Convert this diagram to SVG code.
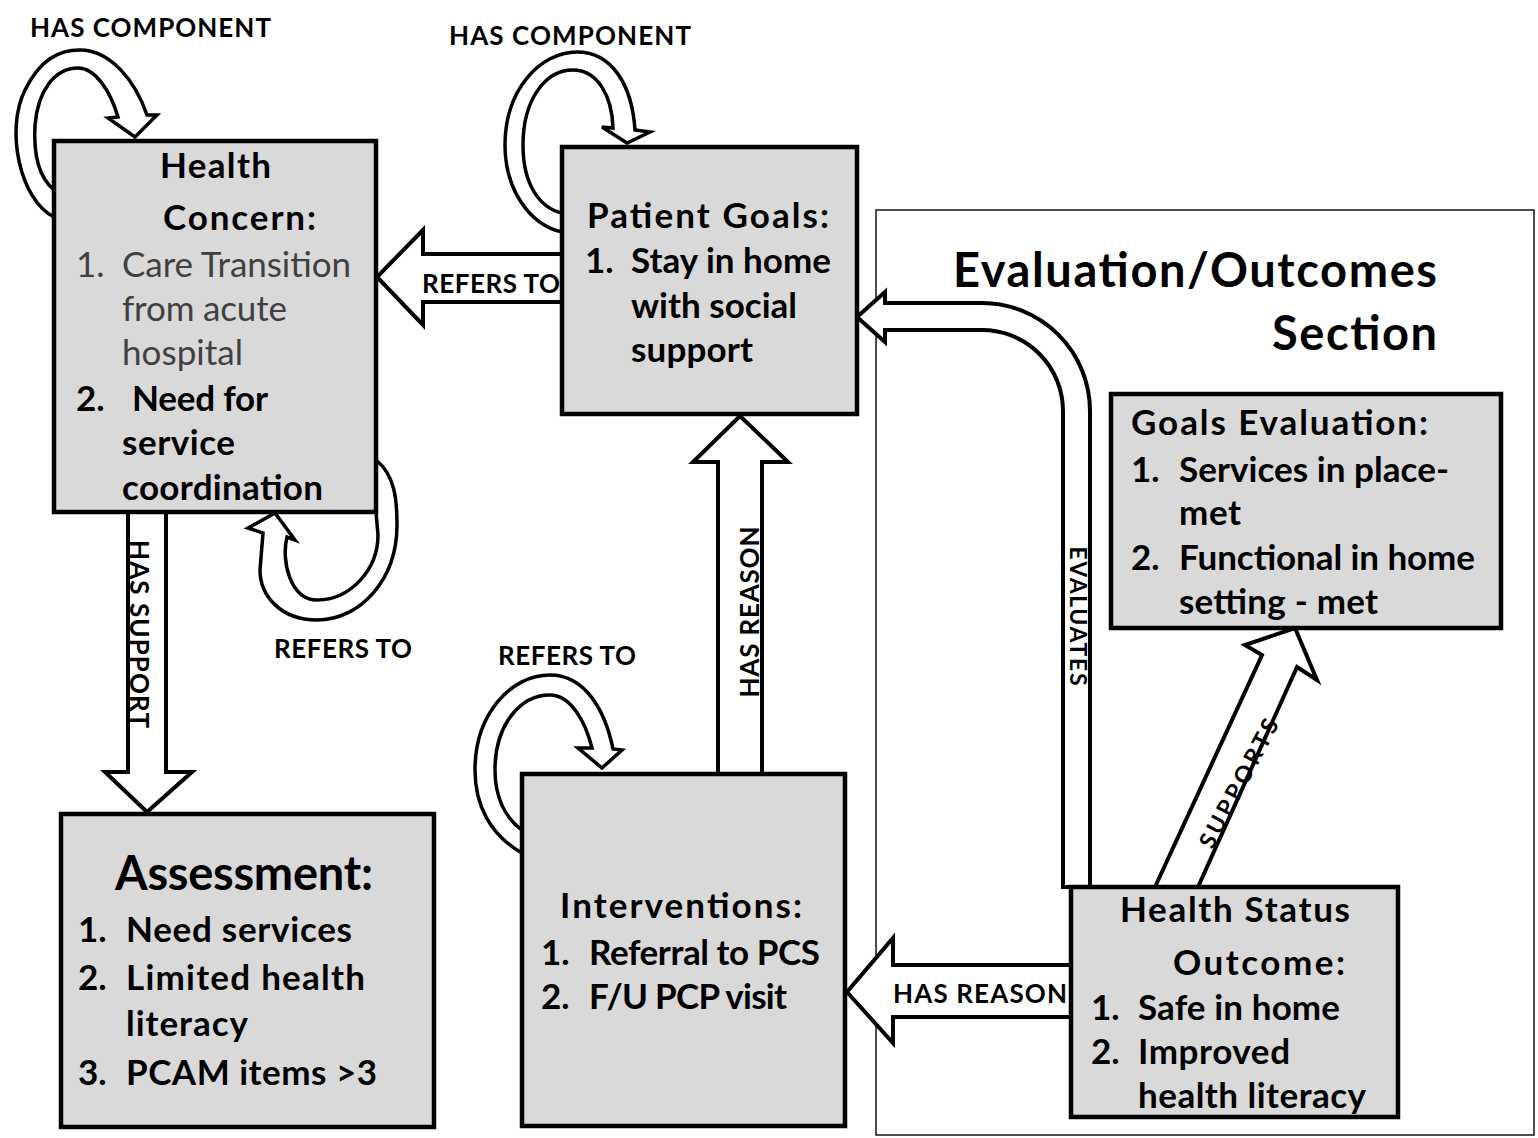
<svg xmlns="http://www.w3.org/2000/svg" width="1538" height="1138" viewBox="0 0 1538 1138">
<style>
.box{fill:#d9d9d9;stroke:#000;stroke-width:4.5}
.arr{fill:#fff;stroke:#000;stroke-width:4;stroke-linejoin:miter}
.loop{fill:#fff;stroke:#000;stroke-width:3.5;stroke-linejoin:miter}
text{font-family:Lato,"Liberation Sans",sans-serif;font-weight:bold;fill:#000}
.t{font-size:35px}
.h{font-size:47px}
.lbl{font-size:26px}
.sm{font-size:23px}
.reg{font-weight:normal;fill:#404040}
</style>
<rect width="1538" height="1138" fill="#fff"/>
<rect id="eval-section" x="876" y="210" width="658" height="925" fill="none" stroke="#222" stroke-width="1.6"/>
<text class="h" x="953" y="287" textLength="484">Evaluation/Outcomes</text>
<text class="h" x="1272" y="350" textLength="165">Section</text>
<g id="connectors">
<path class="loop" d="M54 217 C20 200 5 130 25 90 C40 60 58 50 80 50 C110 50 135 80 147 115 L157 115 L135 137 L108 118 L118 117 C110 90 95 68 78 68 C55 68 38 90 35 125 C33 160 42 180 54 190 Z"/>
<text class="lbl" x="30" y="37" textLength="241">HAS COMPONENT</text>
<path class="loop" d="M562 232 C530 225 505 190 505 145 C505 90 540 52 577 52 C612 52 632 85 635 130 L650 132 L627 143 L602 127 L613 128 C612 95 597 70 573 70 C545 70 523 100 523 145 C523 185 540 208 562 213 Z"/>
<text class="lbl" x="449" y="45" textLength="242">HAS COMPONENT</text>
<path class="arr" d="M562 254 L423 254 L423 230 L377 277 L423 325 L423 302 L562 302 Z"/>
<text class="lbl" x="422" y="293" textLength="138">REFERS TO</text>
<path class="loop" d="M376 460 C395 475 397 500 397 525 C397 580 360 620 317 620 C280 620 260 595 260 570 L263 533 L248 528 L275 513 L295 540 L287 537 C281 560 290 600 317 600 C350 600 378 570 378 535 L376 512 Z"/>
<text class="lbl" x="274" y="658" textLength="138">REFERS TO</text>
<path class="arr" d="M128 512 L128 772 L105 772 L147 812 L192 772 L166 772 L166 512 Z"/>
<text class="lbl" transform="translate(140 634) rotate(90)" text-anchor="middle" dominant-baseline="central" textLength="188">HAS SUPPORT</text>
<path class="arr" d="M718 774 L718 462 L693 462 L740 416 L788 462 L762 462 L762 774 Z"/>
<text class="lbl" transform="translate(749 612) rotate(-90)" text-anchor="middle" dominant-baseline="central" textLength="171">HAS REASON</text>
<path class="loop" d="M522 853 C490 835 475 805 475 770 C475 715 510 675 550 675 C585 675 605 710 613 749 L622 750 L602 768 L578 748 L592 748 C585 720 570 695 550 695 C520 695 495 725 495 770 C495 797 505 818 522 830 Z"/>
<text class="lbl" x="498" y="665" textLength="138">REFERS TO</text>
<path class="arr" d="M1071 965 L893 965 L893 938 L847 992 L893 1043 L893 1017 L1071 1017 Z"/>
<text class="lbl" x="893" y="1003" textLength="174">HAS REASON</text>
<path class="arr" d="M1090 887 L1090 411 A108 108 0 0 0 982 303 L885 303 L885 292 L857 317 L885 342 L885 330 L982 330 A81 81 0 0 1 1063 411 L1063 887 Z"/>
<text class="sm" transform="translate(1079 616) rotate(90)" text-anchor="middle" dominant-baseline="central" textLength="139">EVALUATES</text>
<path class="arr" d="M1155 887 L1262 655 L1245 645 L1295 628 L1317 680 L1297 667 L1198 887 Z"/>
<text class="sm" transform="translate(1238 783) rotate(-62)" text-anchor="middle" dominant-baseline="central" textLength="143">SUPPORTS</text>
</g>
<g id="health-concern">
<rect class="box" x="54" y="141" width="322" height="371"/>
<text class="t" x="160" y="178" textLength="111">Health</text>
<text class="t" x="163" y="230" textLength="153">Concern:</text>
<text class="t reg" x="76" y="277">1.</text>
<text class="t reg" x="122" y="277" textLength="229">Care Transition</text>
<text class="t reg" x="122" y="321" textLength="165">from acute</text>
<text class="t reg" x="122" y="365" textLength="121">hospital</text>
<text class="t" x="76" y="411">2.</text>
<text class="t" x="132" y="411" textLength="136">Need for</text>
<text class="t" x="122" y="455" textLength="113">service</text>
<text class="t" x="122" y="500" textLength="201">coordination</text>
</g>
<g id="patient-goals">
<rect class="box" x="562" y="147" width="295" height="267"/>
<text class="t" x="587" y="228" textLength="242">Patient Goals:</text>
<text class="t" x="585" y="273">1.</text>
<text class="t" x="631" y="273" textLength="200">Stay in home</text>
<text class="t" x="631" y="318" textLength="166">with social</text>
<text class="t" x="631" y="362" textLength="122">support</text>
</g>
<g id="goals-evaluation">
<rect class="box" x="1111" y="394" width="390" height="234"/>
<text class="t" x="1131" y="435" textLength="297">Goals  Evaluation:</text>
<text class="t" x="1131" y="482">1.</text>
<text class="t" x="1179" y="482" textLength="270">Services in place-</text>
<text class="t" x="1179" y="525" textLength="62">met</text>
<text class="t" x="1131" y="570">2.</text>
<text class="t" x="1179" y="570" textLength="296">Functional in home</text>
<text class="t" x="1179" y="614" textLength="199">setting - met</text>
</g>
<g id="health-status">
<rect class="box" x="1071" y="887" width="327" height="230"/>
<text class="t" x="1120" y="922" textLength="230">Health  Status</text>
<text class="t" x="1173" y="975" textLength="172">Outcome:</text>
<text class="t" x="1091" y="1020">1.</text>
<text class="t" x="1138" y="1020" textLength="202">Safe in home</text>
<text class="t" x="1091" y="1064">2.</text>
<text class="t" x="1138" y="1064" textLength="152">Improved</text>
<text class="t" x="1138" y="1108" textLength="228">health literacy</text>
</g>
<g id="assessment">
<rect class="box" x="61" y="814" width="373" height="313"/>
<text class="h" x="115" y="890" textLength="258">Assessment:</text>
<text class="t" x="78" y="942">1.</text>
<text class="t" x="126" y="942" textLength="226">Need services</text>
<text class="t" x="78" y="990">2.</text>
<text class="t" x="126" y="990" textLength="239">Limited health</text>
<text class="t" x="126" y="1036" textLength="122">literacy</text>
<text class="t" x="78" y="1085">3.</text>
<text class="t" x="126" y="1085" textLength="251">PCAM items &gt;3</text>
</g>
<g id="interventions">
<rect class="box" x="522" y="774" width="323" height="352"/>
<text class="t" x="560" y="918" textLength="242">Interventions:</text>
<text class="t" x="541" y="965">1.</text>
<text class="t" x="589" y="965" textLength="231">Referral to PCS</text>
<text class="t" x="541" y="1009">2.</text>
<text class="t" x="589" y="1009" textLength="198">F/U PCP visit</text>
</g>
</svg>
